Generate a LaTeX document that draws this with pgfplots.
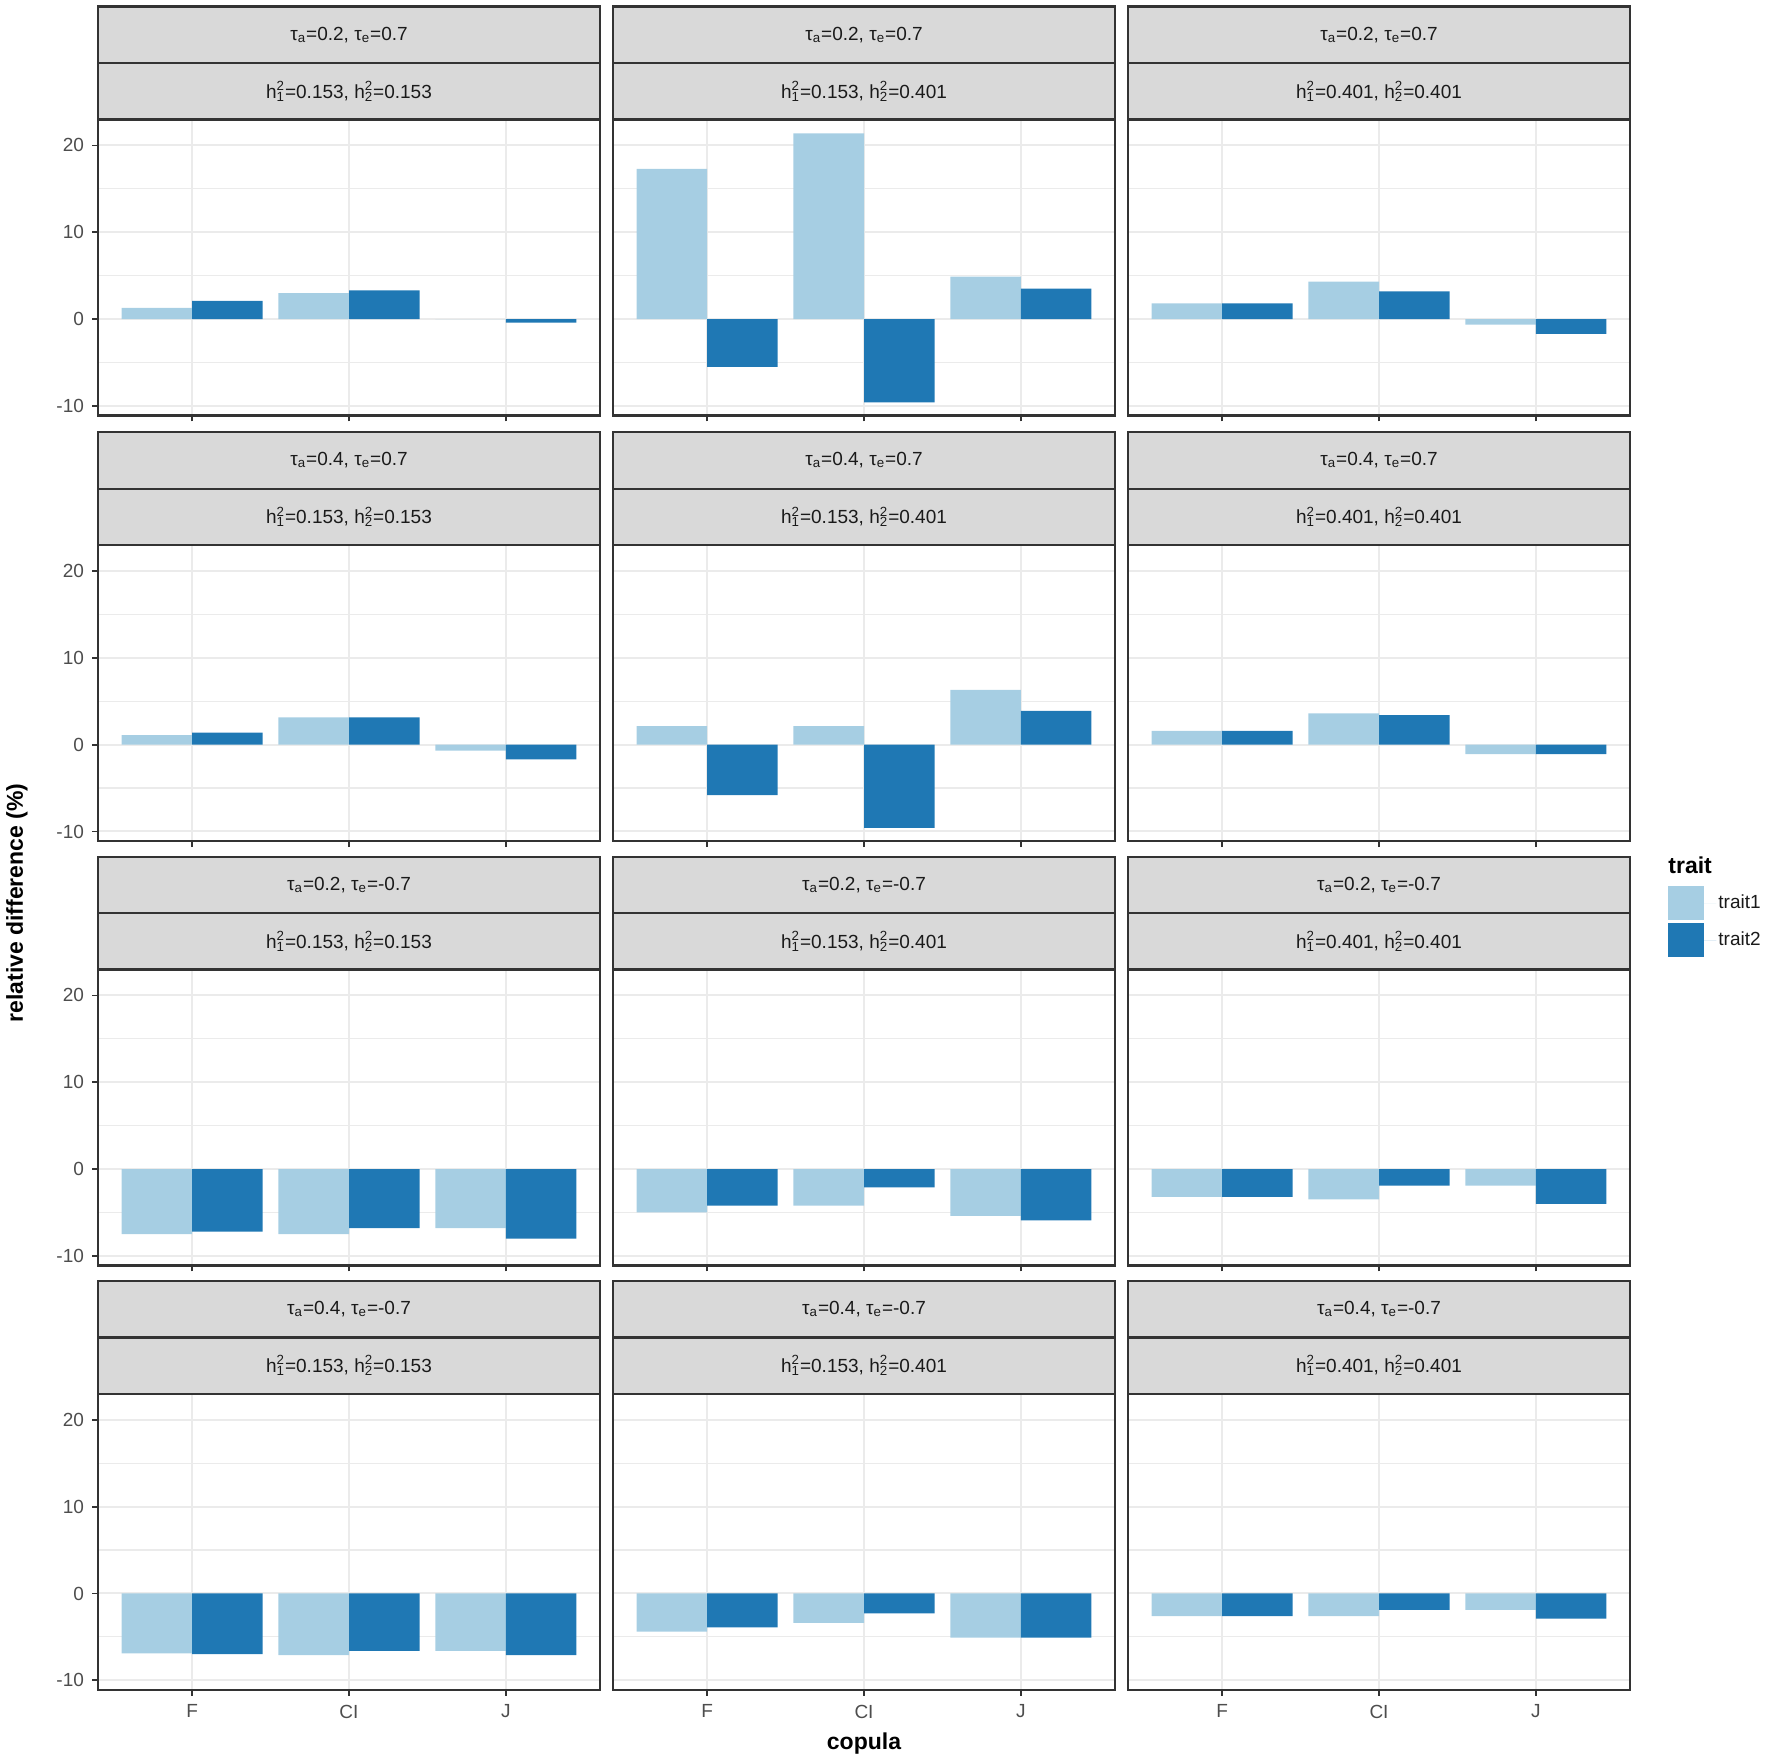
\documentclass[border=0pt]{standalone}
\usepackage{fontspec}
\setmainfont{Liberation Sans}
\usepackage{pgfplots}
\pgfplotsset{compat=1.18}

\definecolor{tA}{HTML}{A6CEE3}
\definecolor{tB}{HTML}{1F78B4}
\definecolor{gridc}{HTML}{EBEBEB}
\definecolor{bord}{HTML}{333333}
\definecolor{stripbg}{HTML}{D9D9D9}
\definecolor{ticklab}{HTML}{4D4D4D}
\definecolor{striptxt}{HTML}{1A1A1A}

\newcommand{\tl}[2]{τ\textsubscript{a}=#1, τ\textsubscript{e}=#2}
\newcommand{\hl}[2]{h\rlap{\textsuperscript{2}}\textsubscript{1}=#1, h\rlap{\textsuperscript{2}}\textsubscript{2}=#2}

\pgfplotsset{panel/.style={
  width=251pt, height=148pt, scale only axis, anchor=south west,
  xmin=0.4, xmax=3.6, ymin=-11.1, ymax=23.0,
  xtick={1,2,3}, xticklabels={F,CI,J},
  ytick={-10,0,10,20}, minor ytick={-5,5,15},
  grid=both,
  major grid style={gridc, line width=1pt},
  minor grid style={gridc, line width=0.6pt},
  axis line style={bord, line width=1.1pt},
  tick style={bord, line width=0.9pt},
  major tick length=3pt, minor tick length=0pt,
  tick align=outside, xtick pos=left, ytick pos=left,
  /pgf/number format/assume math mode=true,
  tick label style={ticklab, font=\fontsize{9.5}{11}\selectfont},
  xticklabel style={yshift=-1pt},
  yticklabel style={xshift=-0.5pt},
},
noxlab/.style={xticklabels={}},
noylab/.style={yticklabels={}, ytick style={draw=none}},
}
\tikzset{
  stripsty/.style={fill=stripbg, draw=bord, line width=1.1pt},
  striptext/.style={text=striptxt, font=\fontsize{9.5}{11}\selectfont, inner sep=0pt},
}

\newcommand{\panel}[8]{%
\begin{axis}[panel, name=#1, at={(#2,#3)}, #8]
\addplot[ybar, bar width=0.45, bar shift=-0.225, fill=tA, draw=none,
  legend image code/.code={\fill[tA] (0pt,-8.5pt) rectangle (18pt,8.5pt); \path (0pt,0pt) -- (24pt,0pt);}] coordinates {#6};
\addplot[ybar, bar width=0.45, bar shift=0.225, fill=tB, draw=none,
  legend image code/.code={\fill[tB] (0pt,-8.5pt) rectangle (18pt,8.5pt); \path (0pt,0pt) -- (24pt,0pt);}] coordinates {#7};
\end{axis}
\draw[stripsty] (#1.north west) rectangle ++(251pt,28.2pt);
\draw[stripsty] ([yshift=28.2pt]#1.north west) rectangle ++(251pt,28.2pt);
\node[striptext] at ([yshift=14.1pt]#1.north) {#5};
\node[striptext] at ([yshift=42.3pt]#1.north) {#4};
}

\begin{document}
\begin{tikzpicture}
% Row 1
\panel{a1}{49pt}{-207.7pt}{\tl{0.2}{0.7}}{\hl{0.153}{0.153}}
  {(1,1.3) (2,3.0) (3,0)}{(1,2.1) (2,3.3) (3,-0.4)}{noxlab}
\panel{a2}{306.5pt}{-207.7pt}{\tl{0.2}{0.7}}{\hl{0.153}{0.401}}
  {(1,17.3) (2,21.4) (3,4.9)}{(1,-5.5) (2,-9.6) (3,3.5)}{noxlab, noylab}
\panel{a3}{564pt}{-207.7pt}{\tl{0.2}{0.7}}{\hl{0.401}{0.401}}
  {(1,1.8) (2,4.3) (3,-0.65)}{(1,1.8) (2,3.2) (3,-1.7)}{noxlab, noylab}
% Row 2
\panel{b1}{49pt}{-420.5pt}{\tl{0.4}{0.7}}{\hl{0.153}{0.153}}
  {(1,1.1) (2,3.15) (3,-0.7)}{(1,1.4) (2,3.15) (3,-1.7)}{noxlab}
\panel{b2}{306.5pt}{-420.5pt}{\tl{0.4}{0.7}}{\hl{0.153}{0.401}}
  {(1,2.15) (2,2.15) (3,6.3)}{(1,-5.8) (2,-9.6) (3,3.9)}{noxlab, noylab}
\panel{b3}{564pt}{-420.5pt}{\tl{0.4}{0.7}}{\hl{0.401}{0.401}}
  {(1,1.6) (2,3.6) (3,-1.1)}{(1,1.6) (2,3.4) (3,-1.1)}{noxlab, noylab}
% Row 3
\panel{c1}{49pt}{-632.7pt}{\tl{0.2}{-0.7}}{\hl{0.153}{0.153}}
  {(1,-7.5) (2,-7.5) (3,-6.8)}{(1,-7.2) (2,-6.8) (3,-8.0)}{noxlab}
\panel{c2}{306.5pt}{-632.7pt}{\tl{0.2}{-0.7}}{\hl{0.153}{0.401}}
  {(1,-5.0) (2,-4.2) (3,-5.4)}{(1,-4.2) (2,-2.1) (3,-5.9)}{noxlab, noylab}
\panel{c3}{564pt}{-632.7pt}{\tl{0.2}{-0.7}}{\hl{0.401}{0.401}}
  {(1,-3.2) (2,-3.5) (3,-1.9)}{(1,-3.2) (2,-1.9) (3,-4.0)}{noxlab, noylab,
   legend entries={trait1,trait2},
   legend style={draw=none, fill=none, at={(1.0757,1.2826)}, anchor=north west,
     inner sep=0pt, row sep=1.5pt, font=\fontsize{9.5}{11}\selectfont,
     nodes={inner sep=1pt, text=striptxt}},
   legend cell align=left}
% Row 4
\panel{d1}{49pt}{-844.9pt}{\tl{0.4}{-0.7}}{\hl{0.153}{0.153}}
  {(1,-6.9) (2,-7.1) (3,-6.6)}{(1,-7.0) (2,-6.6) (3,-7.1)}{}
\panel{d2}{306.5pt}{-844.9pt}{\tl{0.4}{-0.7}}{\hl{0.153}{0.401}}
  {(1,-4.4) (2,-3.4) (3,-5.1)}{(1,-3.9) (2,-2.3) (3,-5.1)}{noylab}
\panel{d3}{564pt}{-844.9pt}{\tl{0.4}{-0.7}}{\hl{0.401}{0.401}}
  {(1,-2.6) (2,-2.6) (3,-1.9)}{(1,-2.6) (2,-1.9) (3,-2.9)}{noylab}
% titles
\node[font=\bfseries\fontsize{11.5}{13}\selectfont, anchor=west, inner sep=0pt] at (834pt,-432.5pt) {trait};
\node[font=\bfseries\fontsize{11.5}{13}\selectfont] at (432pt,-872pt) {copula};
\node[font=\bfseries\fontsize{11.5}{13}\selectfont, rotate=90] at (8.5pt,-451.5pt) {relative difference (\%)};
\pgfresetboundingbox
\path (0pt,0pt) rectangle (885pt,-881pt);
\end{tikzpicture}
\end{document}
